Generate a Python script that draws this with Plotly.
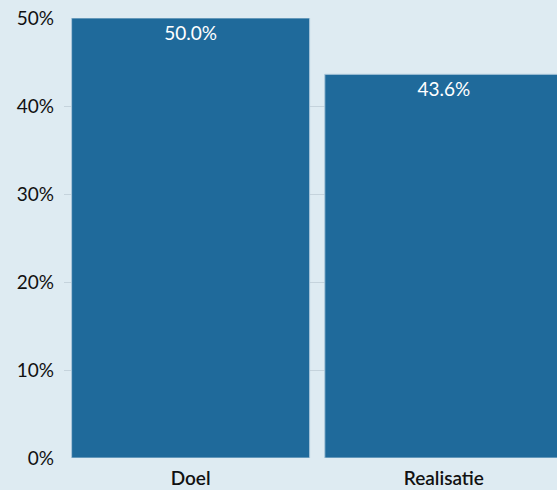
import plotly.graph_objects as go

categories = ["Doel", "Realisatie"]
values = [50.0, 43.6]
tick_vals = [0, 10, 20, 30, 40, 50]
tick_text = ["0%", "10%", "20%", "30%", "40%", "50%"]

fig = go.Figure(go.Bar(
    x=categories,
    y=values,
    text=[f"{v:.1f}%" for v in values],
    textposition="inside",
    insidetextanchor="end",
    textfont=dict(color="white", size=19, family="Lato"),
    marker=dict(color="#1f6a9b", line=dict(color="#a9c6da", width=1)),
    cliponaxis=False,
))

fig.update_layout(
    width=557, height=490,
    margin=dict(l=64, r=0, t=18, b=32),
    paper_bgcolor="#deebf2",
    plot_bgcolor="#deebf2",
    bargap=0.06,
    showlegend=False,
    font=dict(family="Lato", size=19, color="#111111"),
    xaxis=dict(range=[-0.5, 1.447], showgrid=False, showline=False, ticks="",
               ticklabelstandoff=7,
               tickfont=dict(size=19, color="#111111", weight=600), fixedrange=True),
    yaxis=dict(range=[0, 50], tickvals=tick_vals, ticktext=tick_text,
               showgrid=True, gridcolor="#c5d3dc", gridwidth=1, zeroline=False,
               showline=False, ticks="", ticklabelstandoff=9,
               tickfont=dict(size=19, color="#111111")),
)

fig.write_html("out.html", config={"displayModeBar": False},
               post_script="document.body.style.margin='0';document.body.style.overflow='hidden';")
